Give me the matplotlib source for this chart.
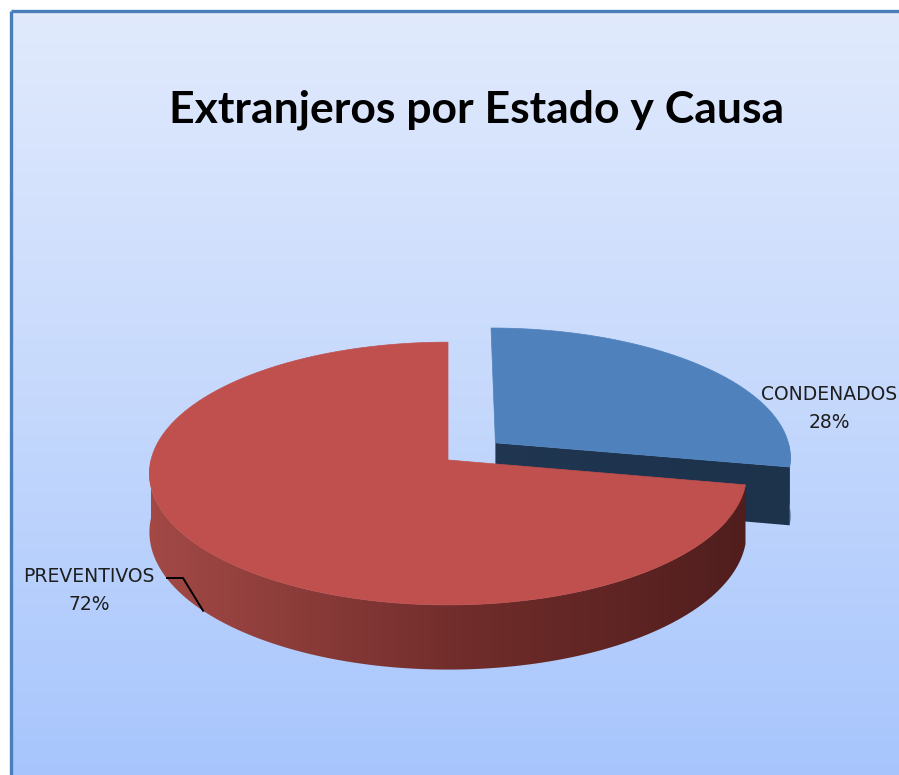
import numpy as np
import matplotlib
matplotlib.use("Agg")
import matplotlib.pyplot as plt
from matplotlib.patches import Polygon, Rectangle
from matplotlib.colors import LinearSegmentedColormap

# ---- data ---------------------------------------------------------------
title = "Extranjeros por Estado y Causa"
categories = ["CONDENADOS", "PREVENTIVOS"]
values = [28, 72]
explode = [0.21, 0.0]

# ---- style --------------------------------------------------------------
TOP_COLORS = ["#4f81bd", "#c0504d"]
SIDE_CMAPS = [
    LinearSegmentedColormap.from_list("blue_side", ["#223a57", "#1d324b"]),
    LinearSegmentedColormap.from_list("red_side", ["#a44a47", "#6f2c2a", "#4a1b1b"]),
]
BG_CMAP = LinearSegmentedColormap.from_list("bg", ["#e1eafc", "#c6d9fc", "#a7c5fd"])
BORDER = "#4a7ebb"
TEXT = "#1e1e1e"

W, H = 899, 775
CX, CY = 448, 460          # pie centre (pixels)
RX, RY = 297, 130          # radii
K = 0.103                  # perspective factor
DEPTH = 58                 # thickness of the pie


def project(u, v, z=0.0):
    s = 1.0 / (1.0 + K * np.asarray(v))
    return CX + RX * np.asarray(u) * s, CY - RY * np.asarray(v) * s + z * DEPTH * s


def rim(a1, a2, du, dv, z=0.0, n=200):
    t = np.radians(np.linspace(a1, a2, n))
    x, y = project(np.cos(t) + du, np.sin(t) + dv, z)
    return np.column_stack([x, y])


fig = plt.figure(figsize=(W / 100, H / 100), dpi=100)
ax = fig.add_axes([0, 0, 1, 1])

# background and frame
ax.add_patch(Rectangle((0, 0), W, H, facecolor="white", edgecolor="none", zorder=-2))
grad = np.linspace(0, 1, 256).reshape(-1, 1)
ax.imshow(grad, cmap=BG_CMAP, extent=(12, W + 5, H + 5, 12), aspect="auto", zorder=-1)
ax.plot([11, 11], [H + 5, 11], color=BORDER, lw=2.4, solid_capstyle="butt", zorder=0)
ax.plot([11, W + 5], [11, 11], color=BORDER, lw=2.4, solid_capstyle="butt", zorder=0)

# ---- slices -------------------------------------------------------------
total = float(sum(values))
fracs = [v / total for v in values]
starts = np.concatenate([[0], np.cumsum(fracs)[:-1]])
slices = []
for i, (f, s0) in enumerate(zip(fracs, starts)):
    a1 = 90 - s0 * 360
    a2 = 90 - (s0 + f) * 360
    mid = np.radians((a1 + a2) / 2)
    du, dv = explode[i] * np.cos(mid), explode[i] * np.sin(mid)
    slices.append(dict(i=i, a1=a1, a2=a2, mid=(a1 + a2) / 2, du=du, dv=dv))

# back slices first
zo = 1
for sl in sorted(slices, key=lambda d: -d["dv"]):
    i, a1, a2, du, dv = sl["i"], sl["a1"], sl["a2"], sl["du"], sl["dv"]
    side_polys = []
    # outer curved wall, only the front part is visible
    for k in range(-2, 3):
        lo, hi = max(a2, -180 + 360 * k), min(a1, 360 * k)
        if hi > lo:
            top = rim(hi, lo, du, dv)
            bot = rim(hi, lo, du, dv, z=1.0)
            side_polys.append(np.vstack([top, bot[::-1]]))
    # radial cut faces
    ax0, ay0 = project(du, dv)
    bx0, by0 = project(du, dv, 1.0)
    for ang, visible in ((a1, np.cos(np.radians(a1)) < -1e-6),
                         (a2, np.cos(np.radians(a2)) > 1e-6)):
        if visible:
            t = np.radians(ang)
            rx_, ry_ = project(np.cos(t) + du, np.sin(t) + dv)
            rbx, rby = project(np.cos(t) + du, np.sin(t) + dv, 1.0)
            side_polys.append(np.array([[ax0, ay0], [rx_, ry_], [rbx, rby], [bx0, by0]]))
    for poly in side_polys:
        patch = Polygon(poly, closed=True, facecolor="none", edgecolor="none", zorder=zo)
        ax.add_patch(patch)
        hgrad = np.linspace(0, 1, 256).reshape(1, -1)
        im = ax.imshow(hgrad, cmap=SIDE_CMAPS[i], aspect="auto", zorder=zo,
                       extent=(CX - RX - 10, CX + RX + 60, H, 0))
        im.set_clip_path(patch)
    zo += 1
    top_pts = np.vstack([[ax0, ay0], rim(a1, a2, du, dv)])
    ax.add_patch(Polygon(top_pts, closed=True, facecolor=TOP_COLORS[i],
                         edgecolor=TOP_COLORS[i], lw=0.5, zorder=zo))
    zo += 1

# ---- labels -------------------------------------------------------------
pct = [f"{round(f * 100):d}%" for f in fracs]
lab_kw = dict(ha="center", va="center", fontsize=13.5, family="DejaVu Sans",
              color=TEXT, zorder=10)
ax.text(829, 395, categories[0], **lab_kw)
ax.text(829, 423, pct[0], **lab_kw)
ax.text(89, 576, categories[1], **lab_kw)
ax.text(89, 604, pct[1], **lab_kw)
# leader line to the red slice
t = np.radians(slices[1]["mid"])
lx, ly = project(np.cos(t), np.sin(t), 1.0)
ax.plot([167, 183, lx], [578, 578, ly], color="black", lw=1.4, zorder=10)

ax.text(477, 110, title, ha="center", va="center", fontsize=32,
        fontweight="bold", family="Lato", color="black", zorder=10)

ax.set_xlim(0, W)
ax.set_ylim(H, 0)
ax.axis("off")
fig.savefig("out.png", dpi=100)
